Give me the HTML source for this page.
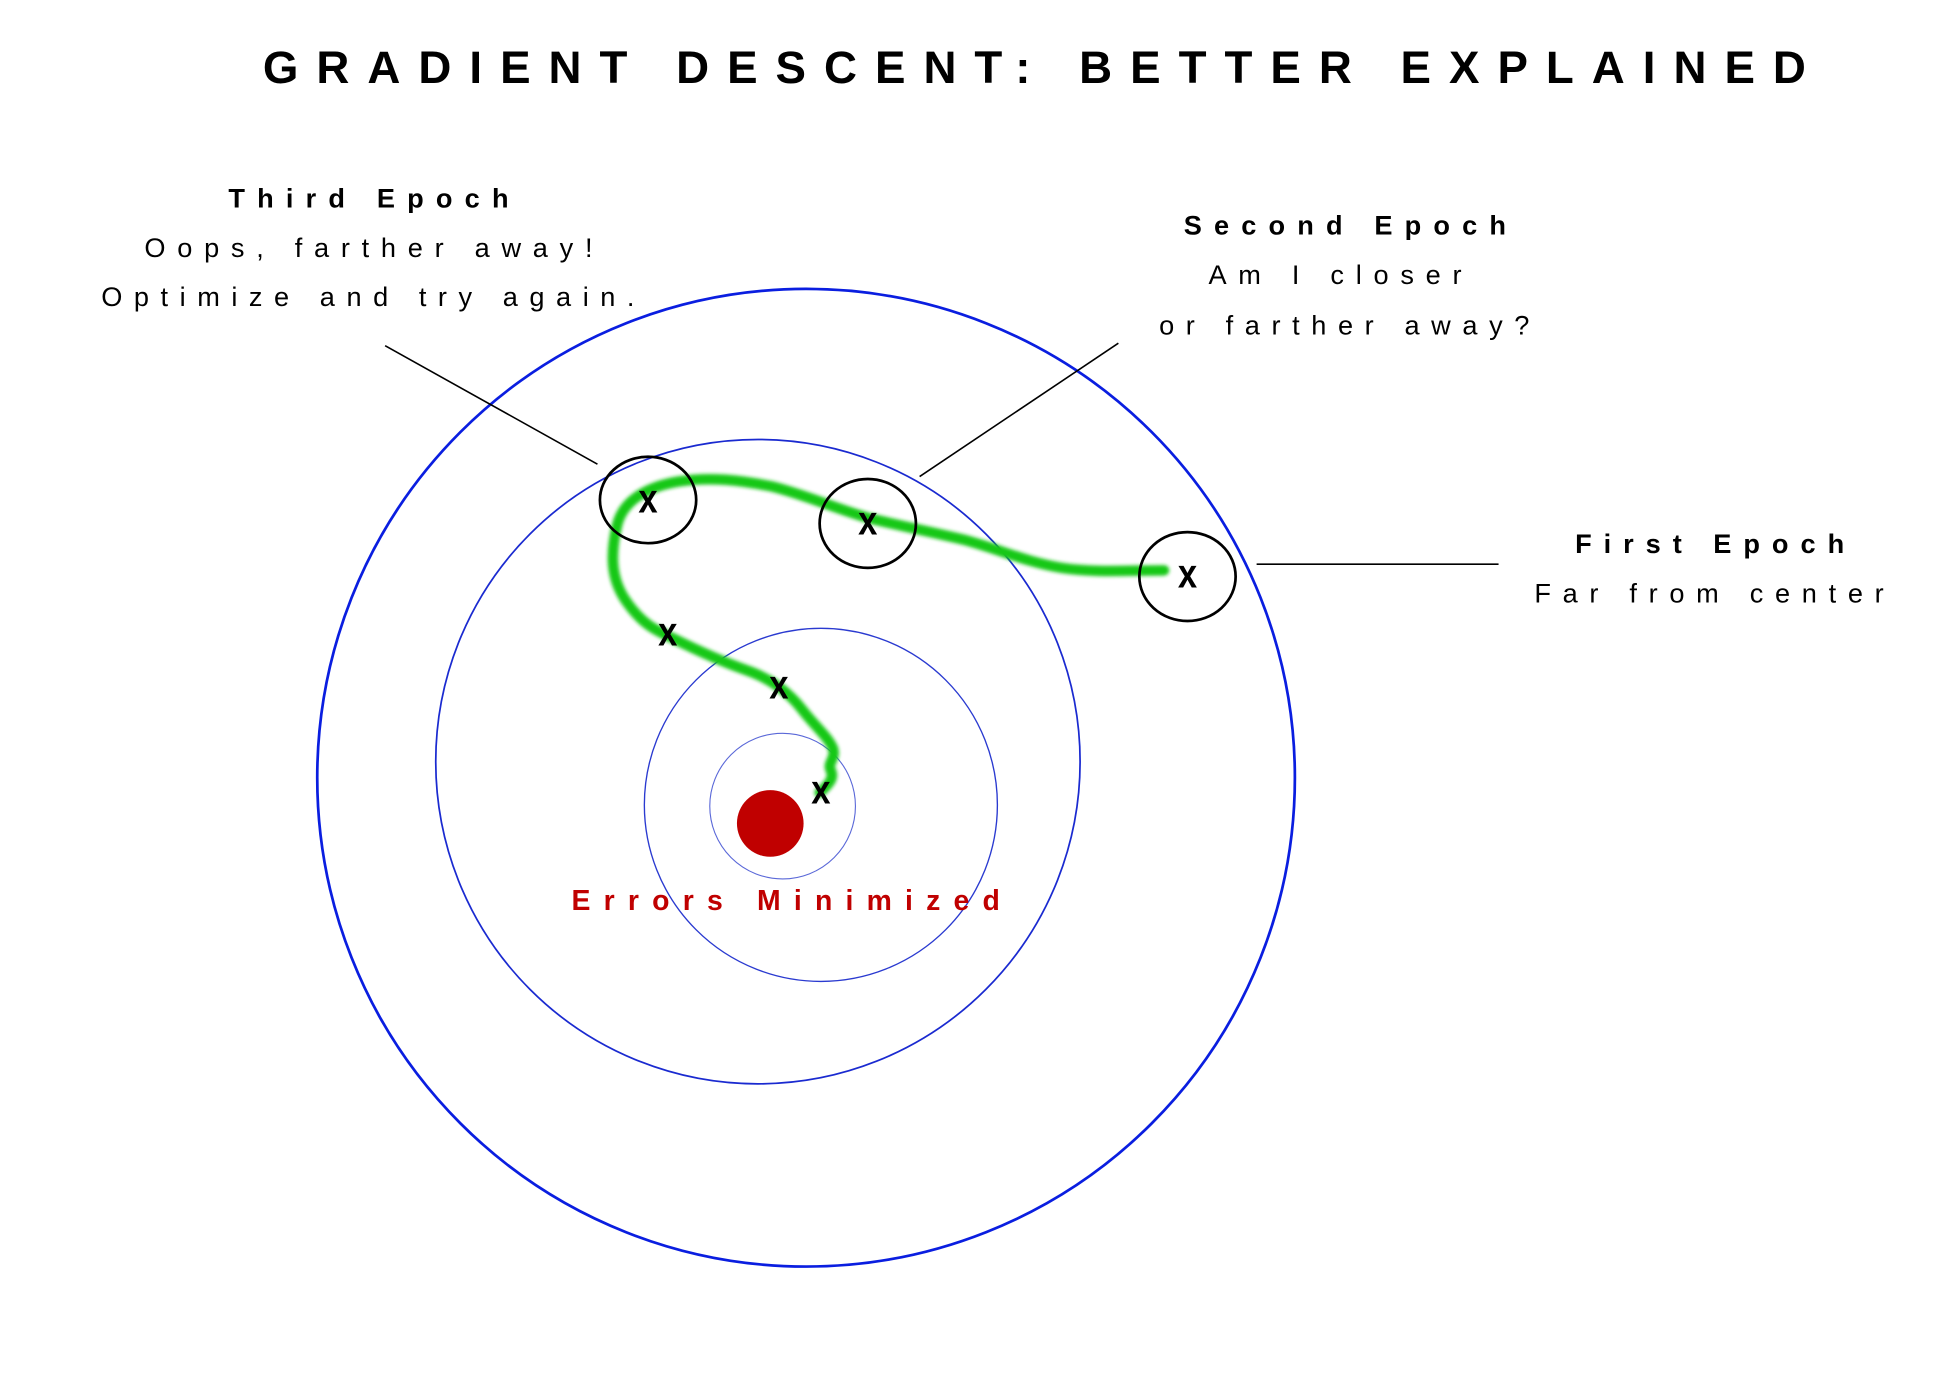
<!DOCTYPE html>
<html><head><meta charset="utf-8"><style>
html,body{margin:0;padding:0;background:#fff;width:1938px;height:1374px;overflow:hidden}
svg{display:block}
text{font-family:"Liberation Sans",Arial,sans-serif}
</style></head><body>
<svg width="1938" height="1374" viewBox="0 0 1570 1113" xmlns="http://www.w3.org/2000/svg">
<defs><filter id="b" x="-5%" y="-5%" width="110%" height="110%"><feGaussianBlur stdDeviation="1.6"/></filter></defs>
<rect width="1570" height="1113" fill="#fff"/>
<text x="213" y="67" font-size="37" font-weight="bold" textLength="1250" lengthAdjust="spacing">GRADIENT DESCENT: BETTER EXPLAINED</text>

<circle cx="653" cy="630" r="396" fill="none" stroke="#0a1ee0" stroke-width="2.2"/>
<circle cx="614" cy="617" r="261" fill="none" stroke="#1a2ad0" stroke-width="1.4"/>
<circle cx="665" cy="652" r="143" fill="none" stroke="#2a3ad0" stroke-width="1.1"/>
<circle cx="634" cy="653" r="59" fill="none" stroke="#5a68d8" stroke-width="0.9"/>
<circle cx="624" cy="667" r="27" fill="#c00000"/>

<line x1="312" y1="280" x2="484" y2="376" stroke="#000" stroke-width="1.3"/>
<line x1="906" y1="278" x2="745" y2="386" stroke="#000" stroke-width="1.3"/>
<line x1="1018" y1="457" x2="1214" y2="457" stroke="#000" stroke-width="1.3"/>

<path d="M943 462 C915 462 885 464 860 460 C830 455 810 445 780 437 C750 430 730 426 705 420 C680 413 650 400 625 394 C600 389 575 386 550 390 C525 394 505 405 500 425 C494 450 495 470 508 488 C520 505 530 510 545 517 C565 527 585 536 605 543 C625 550 640 562 650 575 C660 588 672 598 675 607 C677 615 670 618 673 624 C676 630 672 635 664 642" fill="none" stroke="#12c812" stroke-width="8.5" stroke-linecap="round" stroke-linejoin="round" filter="url(#b)"/>

<ellipse cx="525" cy="405" rx="39" ry="35" fill="none" stroke="#000" stroke-width="2.2"/>
<ellipse cx="703" cy="424" rx="39" ry="36" fill="none" stroke="#000" stroke-width="2.2"/>
<ellipse cx="962" cy="467" rx="39" ry="36" fill="none" stroke="#000" stroke-width="2.2"/>

<g font-size="33" font-weight="bold" text-anchor="middle" fill="#000">
<text x="525" y="415" transform="translate(525 0) scale(0.85 1) translate(-525 0)">x</text>
<text x="703" y="433" transform="translate(703 0) scale(0.85 1) translate(-703 0)">x</text>
<text x="962" y="476" transform="translate(962 0) scale(0.85 1) translate(-962 0)">x</text>
<text x="541" y="523" transform="translate(541 0) scale(0.85 1) translate(-541 0)">x</text>
<text x="631" y="566" transform="translate(631 0) scale(0.85 1) translate(-631 0)">x</text>
<text x="665" y="651" transform="translate(665 0) scale(0.85 1) translate(-665 0)">x</text>
</g>

<text x="463" y="737" font-size="23" font-weight="bold" fill="#c00000" textLength="347" lengthAdjust="spacing">Errors Minimized</text>

<g fill="#000">
<text x="185" y="168" font-size="22" font-weight="bold" textLength="227" lengthAdjust="spacing">Third Epoch</text>
<text x="117" y="208" font-size="22" textLength="363" lengthAdjust="spacing">Oops, farther away!</text>
<text x="82" y="248" font-size="22" textLength="432" lengthAdjust="spacing">Optimize and try again.</text>

<text x="959" y="190" font-size="22" font-weight="bold" textLength="261" lengthAdjust="spacing">Second Epoch</text>
<text x="979" y="230" font-size="22" textLength="205" lengthAdjust="spacing">Am I closer</text>
<text x="939" y="271" font-size="22" textLength="300" lengthAdjust="spacing">or farther away?</text>

<text x="1276" y="448" font-size="22" font-weight="bold" textLength="218" lengthAdjust="spacing">First Epoch</text>
<text x="1243" y="488" font-size="22" textLength="283" lengthAdjust="spacing">Far from center</text>
</g>
</svg>
</body></html>
